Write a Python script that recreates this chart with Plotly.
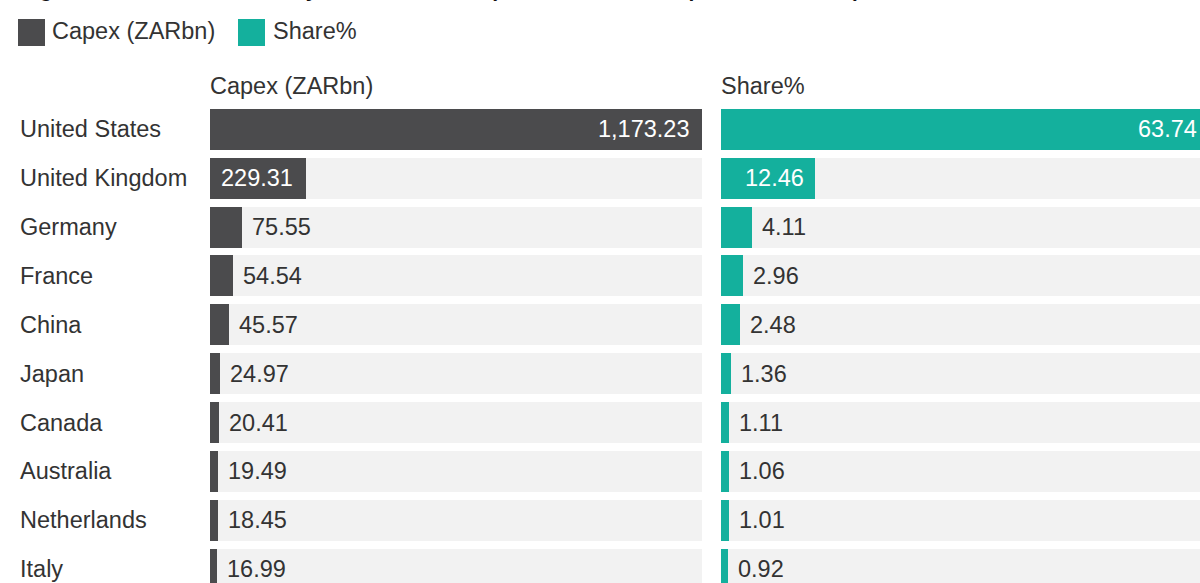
import plotly.graph_objects as go

# Source countries ranked by capex, with their share of the total
countries = ["United States", "United Kingdom", "Germany", "France", "China",
             "Japan", "Canada", "Australia", "Netherlands", "Italy"]
capex_zarbn = [1173.23, 229.31, 75.55, 54.54, 45.57, 24.97, 20.41, 19.49, 18.45, 16.99]
share_pct = [63.74, 12.46, 4.11, 2.96, 2.48, 1.36, 1.11, 1.06, 1.01, 0.92]

W, H = 1200, 583
FONT = "Liberation Sans, Arial, Helvetica, sans-serif"
FS = 23.5
DARK = "#4b4b4d"
TEAL = "#14b09d"
TRACK = "#f2f2f2"
TEXT = "#333333"

# panel geometry (pixels)
LEFT_X0, LEFT_X1 = 210, 702
RIGHT_X0, RIGHT_X1 = 721, 1200
TOP = 105
ROW = 48.85
BAR_W = 0.84

capex_max = max(capex_zarbn)
share_max = 63.4  # right panel runs off the page edge


def px(x):
    return x / W


def py(y):
    return 1 - y / H


fig = go.Figure()

# grey tracks behind every row
fig.add_trace(go.Bar(y=countries, x=[capex_max] * len(countries), orientation="h",
                     marker=dict(color=TRACK, line=dict(width=0)), width=BAR_W,
                     xaxis="x", yaxis="y", hoverinfo="skip", showlegend=False))
fig.add_trace(go.Bar(y=countries, x=[share_max * 1.1] * len(countries), orientation="h",
                     marker=dict(color=TRACK, line=dict(width=0)), width=BAR_W,
                     xaxis="x2", yaxis="y", hoverinfo="skip", showlegend=False))

# value bars
fig.add_trace(go.Bar(y=countries, x=capex_zarbn, orientation="h", name="Capex (ZARbn)",
                     marker=dict(color=DARK, line=dict(width=0)), width=BAR_W,
                     xaxis="x", yaxis="y", hoverinfo="skip", showlegend=False))
fig.add_trace(go.Bar(y=countries, x=share_pct, orientation="h", name="Share%",
                     marker=dict(color=TEAL, line=dict(width=0)), width=BAR_W,
                     xaxis="x2", yaxis="y", hoverinfo="skip", showlegend=False))

annotations = []


def value_labels(values, fmt, axis, rng_max, inset):
    for name, v in zip(countries, values):
        inside = v / rng_max > 0.15
        if inside:
            clipped = v > rng_max
            annotations.append(dict(
                x=min(v, rng_max), y=name, xref=axis, yref="y", text=fmt(v),
                showarrow=False, xanchor="right", yanchor="middle",
                xshift=-1 if clipped else -inset,
                font=dict(family=FONT, size=FS, color="white")))
        else:
            annotations.append(dict(
                x=v, y=name, xref=axis, yref="y", text=fmt(v),
                showarrow=False, xanchor="left", yanchor="middle", xshift=8,
                font=dict(family=FONT, size=FS, color=TEXT)))


value_labels(capex_zarbn, lambda v: f"{v:,.2f}", "x", capex_max, 11)
value_labels(share_pct, lambda v: f"{v:.2f}", "x2", share_max, 9)

# country names
for name in countries:
    annotations.append(dict(x=px(18), y=name, xref="paper", yref="y", text=name,
                            showarrow=False, xanchor="left", yanchor="middle",
                            font=dict(family=FONT, size=FS, color=TEXT)))

# column headers
for x0, label in [(LEFT_X0, "Capex (ZARbn)"), (RIGHT_X0, "Share%")]:
    annotations.append(dict(x=px(x0 - 2), y=py(86), xref="paper", yref="paper", text=label,
                            showarrow=False, xanchor="left", yanchor="middle",
                            font=dict(family=FONT, size=FS, color=TEXT)))

# legend
shapes = []
for (x0, x1, color, tx, label) in [(18, 45, DARK, 50, "Capex (ZARbn)"),
                                   (238, 265, TEAL, 271, "Share%")]:
    shapes.append(dict(type="rect", xref="paper", yref="paper",
                       x0=px(x0), x1=px(x1), y0=py(19), y1=py(46),
                       fillcolor=color, line=dict(width=0), layer="above"))
    annotations.append(dict(x=px(tx), y=py(31), xref="paper", yref="paper", text=label,
                            showarrow=False, xanchor="left", yanchor="middle",
                            font=dict(family=FONT, size=FS, color=TEXT)))

# figure title, running off the top edge
annotations.append(dict(
    x=px(19), y=1, xref="paper", yref="paper", yanchor="bottom", xanchor="left", yshift=-3.5,
    text="<b>Figure 2: Source countries by total investment (ZARbn and % of capex, 2003 – 2023)</b>",
    showarrow=False, font=dict(family=FONT, size=21, color="#111111")))

n_rows_visible = (H - TOP) / ROW

fig.update_layout(
    width=W, height=H,
    margin=dict(l=0, r=0, t=0, b=0),
    paper_bgcolor="white", plot_bgcolor="white",
    barmode="overlay", bargap=0,
    xaxis=dict(domain=[px(LEFT_X0), px(LEFT_X1)], range=[0, capex_max],
               visible=False, fixedrange=True),
    xaxis2=dict(domain=[px(RIGHT_X0), px(RIGHT_X1)], range=[0, share_max],
                visible=False, fixedrange=True, anchor="y"),
    yaxis=dict(domain=[0, 1 - TOP / H], range=[n_rows_visible - 0.5, -0.5],
               type="category", categoryorder="array", categoryarray=countries,
               visible=False, fixedrange=True),
    annotations=annotations, shapes=shapes,
    showlegend=False,
)

fig.write_html("out.html", config={"displayModeBar": False})
